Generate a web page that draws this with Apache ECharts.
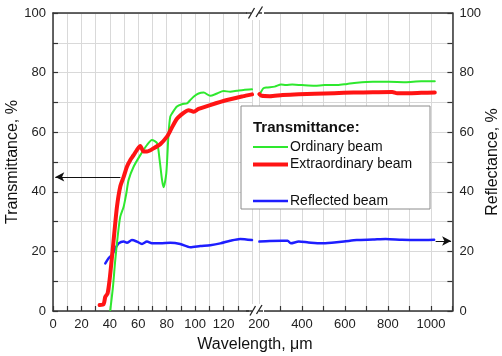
<!DOCTYPE html>
<html>
<head>
<meta charset="utf-8">
<script src="https://cdn.jsdelivr.net/npm/echarts@6/dist/echarts.min.js"></script>
<style>
  html, body { margin: 0; padding: 0; background: #fff; }
  #chart { width: 502px; height: 356px; }
</style>
</head>
<body>
<div id="chart"></div>
<script>
// Short-wavelength segment (0–140 µm)
const ordLeftX = [40.3, 42.2, 43.8, 45.5, 47.3, 49.7, 51.6, 53.2, 56.7, 61.4, 66.1, 69.6, 73.2, 75, 76.7, 77.8, 79.7, 81.3, 82.5, 83.7, 87.2, 90.7, 94.3, 96.6, 98.9, 102.4, 106, 110.6, 115.4, 120, 124.7, 129.4, 134, 140];
const ordLeftT = [0.3, 8.2, 17.1, 25, 31.6, 35, 39.5, 44, 48.4, 52.3, 55.7, 57.4, 56.3, 50.7, 44, 41.5, 46.2, 59.6, 65.2, 66.3, 68.6, 69.4, 69.7, 70.8, 71.9, 73, 73.3, 72.2, 73, 73.8, 73.6, 73.9, 74.2, 74.4];

const extLeftX = [32.8, 35.6, 36.8, 38.4, 39.8, 41.5, 43.1, 45, 47.3, 49.7, 52, 54.4, 56.7, 59, 61.4, 63.7, 66.1, 70.8, 75.5, 80.2, 82.5, 87.2, 91.9, 95.4, 99, 102.4, 110.6, 122.4, 134, 140];
const extLeftT = [2.0, 2.3, 4.8, 5.9, 10.4, 18.2, 26, 35, 41.7, 45, 48.4, 50.7, 52.3, 54, 55.4, 53.5, 53.5, 54.6, 56, 58.5, 60.5, 64.5, 66.5, 67.4, 66.9, 67.8, 69.1, 70.8, 72.1, 72.7];

const refLeftX = [36.8, 39.1, 41.5, 43.8, 46.2, 49.7, 52, 55.5, 59, 62.6, 66.1, 69.6, 75.5, 82.5, 89.5, 96.6, 103.6, 110.6, 117.7, 124.7, 131.7, 140];
const refLeftR = [16, 17.7, 18.8, 21, 22.7, 23.3, 22.9, 23.8, 23.3, 22.5, 23.3, 22.7, 22.7, 22.9, 22.5, 21.4, 21.8, 22.1, 22.7, 23.6, 24.2, 23.8];

// Long-wavelength segment (200–1100 µm)
const ordRightX = [202, 220, 235, 273, 303, 325, 355, 400, 460, 505, 565, 610, 655, 730, 805, 880, 955, 1018];
const ordRightT = [72.5, 74.7, 75, 75.3, 76, 75.8, 76, 75.8, 75.6, 75.8, 75.8, 76.2, 76.6, 76.9, 76.9, 76.8, 77.1, 77.1];

const extRightX = [202, 213, 250, 310, 385, 460, 550, 640, 730, 820, 843, 895, 955, 1018];
const extRightT = [72.8, 72.2, 72.1, 72.5, 72.7, 72.9, 73.1, 73.3, 73.4, 73.5, 73.1, 73.1, 73.2, 73.3];

const refRightX = [202, 250, 310, 333, 348, 385, 430, 490, 550, 595, 655, 730, 790, 865, 940, 1015];
const refRightR = [23.3, 23.5, 23.6, 23.6, 22.7, 23.3, 23, 22.7, 23, 23.3, 23.8, 24, 24.2, 23.9, 23.8, 23.9];

// Tick labels shown on each wavelength segment
const shortTicks = [0, 20, 40, 60, 80, 100, 120];
const longTicks = [200, 400, 600, 800, 1000];
const sideTicks = [0, 20, 40, 60, 80, 100];

// Arrows pointing to each curve's own axis
const transArrow = { from: [47.4, 45], to: [1.6, 45] };
const reflArrow = { from: [1022, 23.5], to: [1094, 23.5] };

const GREEN = '#2ee82e';
const RED = '#ff1414';
const BLUE = '#1e1eff';
const AXIS = '#333';
const GRIDLINE = '#d9d9d9';
const FONT = 'Liberation Sans, Arial, sans-serif';

const zip = (xs, ys) => xs.map((x, i) => [x, ys[i]]);

const chart = echarts.init(document.getElementById('chart'), null, { renderer: 'canvas' });

const tickLabel = { color: '#222', fontSize: 13, fontFamily: FONT };

function bottomAxis(gridIndex, min, max, interval, shown) {
  return {
    type: 'value', gridIndex, position: 'bottom', min, max, interval,
    axisLine: { show: true, onZero: false, lineStyle: { color: AXIS, width: 1.5 } },
    axisTick: { show: true, inside: true, length: 5, lineStyle: { color: AXIS, width: 1.2 } },
    axisLabel: { ...tickLabel, margin: 7, formatter: v => (shown.includes(v) ? String(v) : '') },
    splitLine: { show: true, lineStyle: { color: GRIDLINE, width: 1 } }
  };
}
function topAxis(gridIndex, min, max) {
  return {
    type: 'value', gridIndex, position: 'top', min, max,
    axisLine: { show: true, onZero: false, lineStyle: { color: AXIS, width: 1.5 } },
    axisTick: { show: false }, axisLabel: { show: false }, splitLine: { show: false }
  };
}
function sideAxis(gridIndex, position, name) {
  return {
    type: 'value', gridIndex, position, min: 0, max: 100, interval: 10,
    name, nameLocation: 'middle', nameRotate: 90, nameGap: position === 'left' ? 29 : 29,
    nameTextStyle: { color: '#111', fontSize: 16, fontFamily: FONT },
    axisLine: { show: true, onZero: false, lineStyle: { color: AXIS, width: 1.5 } },
    axisTick: { show: true, inside: true, length: 5, lineStyle: { color: AXIS, width: 1.2 } },
    axisLabel: { ...tickLabel, margin: 7, formatter: v => (sideTicks.includes(v) ? String(v) : '') },
    splitLine: { show: true, lineStyle: { color: GRIDLINE, width: 1 } }
  };
}

function line(name, xi, yi, data, color, width) {
  return {
    name, type: 'line', xAxisIndex: xi, yAxisIndex: yi, data,
    symbol: 'none', smooth: 0.25, clip: true,
    lineStyle: { color, width, cap: 'round', join: 'round' },
    itemStyle: { color }, z: width > 3 ? 4 : 3
  };
}
function arrow(xi, yi, a) {
  return {
    type: 'line', xAxisIndex: xi, yAxisIndex: yi, data: [], silent: true,
    markLine: {
      silent: true, symbol: ['none', 'arrow'], symbolSize: [7, 9],
      label: { show: false },
      lineStyle: { color: '#111', width: 1, type: 'solid' },
      data: [[{ coord: a.from }, { coord: a.to }]]
    }
  };
}

// break marks on the top and bottom axes
const slash = (x1, y1, x2, y2) => ({
  type: 'line', shape: { x1, y1, x2, y2 },
  style: { stroke: '#222', lineWidth: 1.3 }, z: 100
});

// legend panel
const LX = 253;
const legendGraphics = [
  { type: 'rect', shape: { x: 241, y: 106, width: 189, height: 103 },
    style: { fill: '#fff', stroke: '#8c8c8c', lineWidth: 1 }, z: 50 },
  { type: 'text', x: LX, y: 128, z: 51,
    style: { text: 'Transmittance:', font: 'bold 15px ' + FONT, fill: '#111', verticalAlign: 'middle' } },
  { type: 'line', shape: { x1: LX, y1: 147, x2: 288, y2: 147 }, style: { stroke: GREEN, lineWidth: 2 }, z: 51 },
  { type: 'text', x: 290, y: 147, z: 51,
    style: { text: 'Ordinary beam', font: '14px ' + FONT, fill: '#111', verticalAlign: 'middle' } },
  { type: 'line', shape: { x1: LX, y1: 164.5, x2: 288, y2: 164.5 }, style: { stroke: RED, lineWidth: 4 }, z: 51 },
  { type: 'text', x: 290, y: 164.5, z: 51,
    style: { text: 'Extraordinary beam', font: '14px ' + FONT, fill: '#111', verticalAlign: 'middle' } },
  { type: 'line', shape: { x1: LX, y1: 201, x2: 288, y2: 201 }, style: { stroke: BLUE, lineWidth: 2.5 }, z: 51 },
  { type: 'text', x: 290, y: 201, z: 51,
    style: { text: 'Reflected beam', font: '14px ' + FONT, fill: '#111', verticalAlign: 'middle' } }
];

chart.setOption({
  backgroundColor: '#fff',
  animation: false,
  grid: [
    { left: 53, top: 13, width: 199, height: 298 },
    { left: 259, top: 13, width: 199, height: 298 }
  ],
  xAxis: [
    bottomAxis(0, 0, 140, 10, shortTicks),
    topAxis(0, 0, 140),
    bottomAxis(1, 200, 1100, 100, longTicks),
    topAxis(1, 200, 1100)
  ],
  yAxis: [
    sideAxis(0, 'left', 'Transmittance, %'),
    sideAxis(1, 'right', 'Reflectance, %')
  ],
  series: [
    line('Reflected beam', 0, 0, zip(refLeftX, refLeftR), BLUE, 2.5),
    line('Reflected beam', 2, 1, zip(refRightX, refRightR), BLUE, 2.5),
    line('Ordinary beam', 0, 0, zip(ordLeftX, ordLeftT), GREEN, 2),
    line('Ordinary beam', 2, 1, zip(ordRightX, ordRightT), GREEN, 2),
    line('Extraordinary beam', 0, 0, zip(extLeftX, extLeftT), RED, 4),
    line('Extraordinary beam', 2, 1, zip(extRightX, extRightT), RED, 4),
    arrow(0, 0, transArrow),
    arrow(2, 1, reflArrow)
  ],
  graphic: [
    { type: 'rect', shape: { x: 247, y: 4, width: 17, height: 16 }, style: { fill: '#fff' }, z: 99 },
    { type: 'rect', shape: { x: 249, y: 304, width: 15, height: 13 }, style: { fill: '#fff' }, z: 99 },
    slash(248.5, 18.5, 254.5, 8), slash(256, 17, 262.5, 6.5),
    slash(250, 315.5, 255.5, 306), slash(256.5, 314, 262, 305),
    { type: 'line', shape: { x1: 246, y1: 13, x2: 251, y2: 13 }, style: { stroke: AXIS, lineWidth: 1.5 }, z: 99 },
    { type: 'line', shape: { x1: 259, y1: 13, x2: 262, y2: 13 }, style: { stroke: AXIS, lineWidth: 1.5 }, z: 99 },
    { type: 'line', shape: { x1: 246, y1: 311, x2: 252.5, y2: 311 }, style: { stroke: AXIS, lineWidth: 1.5 }, z: 99 },
    { type: 'line', shape: { x1: 259, y1: 311, x2: 263, y2: 311 }, style: { stroke: AXIS, lineWidth: 1.5 }, z: 99 },
    { type: 'text', x: 255, y: 345, z: 60,
      style: { text: 'Wavelength, μm', font: '16px ' + FONT, fill: '#111', align: 'center', verticalAlign: 'middle' } },
    ...legendGraphics
  ]
});
</script>
</body>
</html>
